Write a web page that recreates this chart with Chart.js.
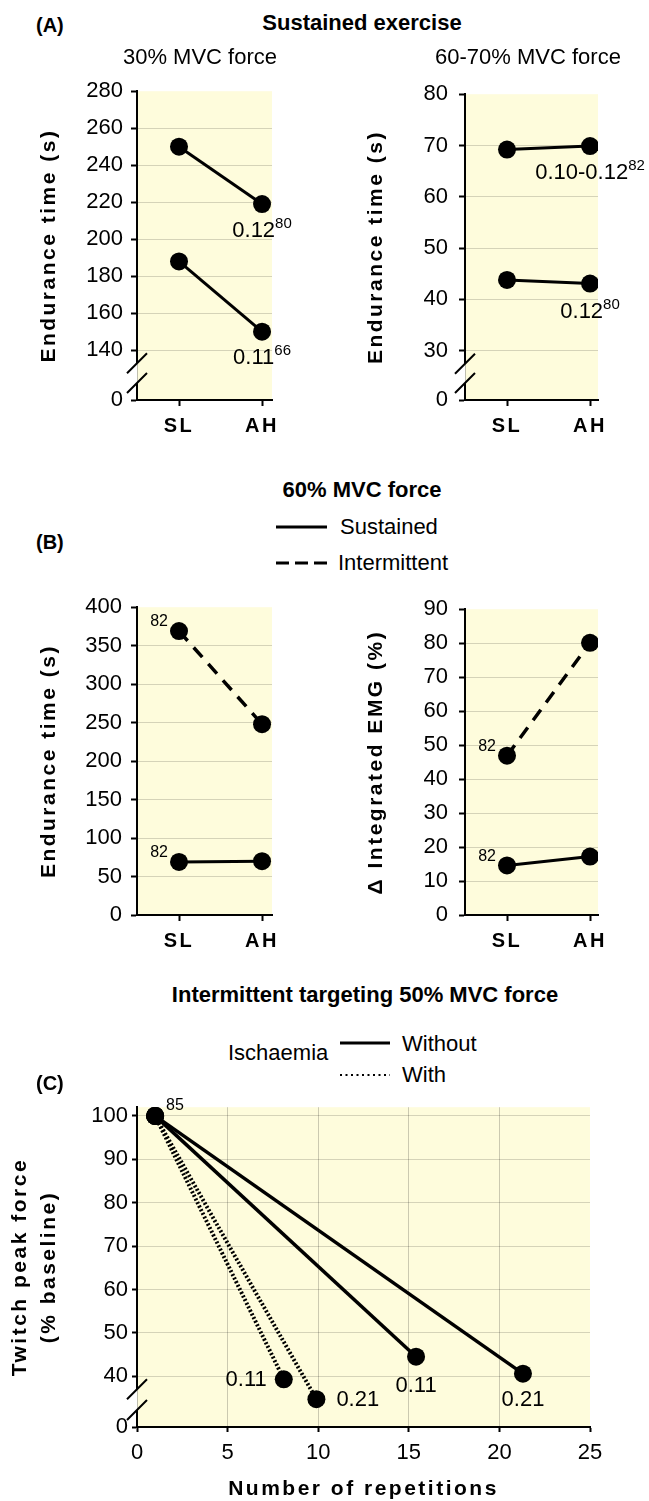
<!DOCTYPE html>
<html>
<head>
<meta charset="utf-8">
<title>Endurance time and twitch force, SL vs AH</title>
<script src="https://cdn.jsdelivr.net/npm/chart.js@4.4.1/dist/chart.umd.min.js"></script>
<style>
    body { margin: 0; background: #fff; }
    #page { position: relative; width: 649px; height: 1501px; font-family: 'Liberation Sans', Arial, sans-serif; color: #000; }
    #page canvas { position: absolute; }
    .txt { position: absolute; white-space: nowrap; height: 30px; line-height: 30px; font-size: 22px; }
    .bold { font-weight: bold; }
    .mid { transform: translateX(-50%); }
    .tag { font-size: 20px; font-weight: bold; }
    svg.key { position: absolute; overflow: visible; }
</style>
</head>
<body>
<div id="page">
    <canvas id="chartA1" width="310" height="370" style="left:0px; top:70px;"></canvas>
    <canvas id="chartA2" width="329" height="370" style="left:320px; top:70px;"></canvas>
    <canvas id="chartB1" width="310" height="370" style="left:0px; top:585px;"></canvas>
    <canvas id="chartB2" width="329" height="370" style="left:320px; top:585px;"></canvas>
    <canvas id="chartC" width="649" height="411" style="left:0px; top:1090px;"></canvas>

    <div class="txt tag" style="left:36px; top:10px;">(A)</div>
    <div class="txt bold mid" style="left:362px; top:8px;">Sustained exercise</div>
    <div class="txt mid" style="left:200px; top:42px;">30% MVC force</div>
    <div class="txt mid" style="left:528px; top:42px;">60-70% MVC force</div>

    <div class="txt tag" style="left:36px; top:527px;">(B)</div>
    <div class="txt bold mid" style="left:362px; top:475px;">60% MVC force</div>
    <svg class="key" style="left:276px; top:517px;" width="52" height="56">
        <line x1="0" y1="10" x2="51" y2="10" stroke="#000" stroke-width="3"/>
        <line x1="0" y1="46" x2="51" y2="46" stroke="#000" stroke-width="3" stroke-dasharray="13 6"/>
    </svg>
    <div class="txt" style="left:340px; top:512px;">Sustained</div>
    <div class="txt" style="left:338px; top:548px;">Intermittent</div>

    <div class="txt tag" style="left:36px; top:1068px;">(C)</div>
    <div class="txt bold mid" style="left:365px; top:980px;">Intermittent targeting 50% MVC force</div>
    <div class="txt" style="left:228px; top:1038px;">Ischaemia</div>
    <svg class="key" style="left:340px; top:1033px;" width="50" height="52">
        <line x1="0" y1="10" x2="50" y2="10" stroke="#000" stroke-width="3"/>
        <line x1="0" y1="42" x2="50" y2="42" stroke="#000" stroke-width="2" stroke-dasharray="2 3.5"/>
    </svg>
    <div class="txt" style="left:402px; top:1029px;">Without</div>
    <div class="txt" style="left:402px; top:1060px;">With</div>
</div>

<script>
    // ---- data ----
    const categories = ['SL', 'AH'];

    // (A) sustained exercise, 30% MVC force
    const a30Ticks = [140, 160, 180, 200, 220, 240, 260, 280];
    const a30Upper = [250, 219];
    const a30Lower = [188, 150];
    const a30UpperNote = ['0.12', '80'];
    const a30LowerNote = ['0.11', '66'];

    // (A) sustained exercise, 60-70% MVC force
    const a6070Ticks = [30, 40, 50, 60, 70, 80];
    const a6070Upper = [69.2, 69.9];
    const a6070Lower = [43.8, 43.1];
    const a6070UpperNote = ['0.10-0.12', '82'];
    const a6070LowerNote = ['0.12', '80'];

    // (B) 60% MVC force
    const bTimeTicks = [0, 50, 100, 150, 200, 250, 300, 350, 400];
    const bTimeSustained = [69, 70];
    const bTimeIntermittent = [369, 248];
    const bEmgTicks = [0, 10, 20, 30, 40, 50, 60, 70, 80, 90];
    const bEmgSustained = [14.6, 17.2];
    const bEmgIntermittent = [46.9, 80.1];
    const bRef = '82';

    // (C) intermittent targeting 50% MVC force
    const cXTicks = [0, 5, 10, 15, 20, 25];
    const cYTicks = [40, 50, 60, 70, 80, 90, 100];
    const cRepsWithoutA = [1, 15.4];
    const cForceWithoutA = [100, 44.5];
    const cRepsWithoutB = [1, 21.3];
    const cForceWithoutB = [100, 40.6];
    const cRepsWithA = [1, 8.1];
    const cForceWithA = [100, 39.3];
    const cRepsWithB = [1, 9.9];
    const cForceWithB = [100, 34.7];
    const cRef = '85';
    const cNoteWithoutA = '0.11';
    const cNoteWithoutB = '0.21';
    const cNoteWithA = '0.11';
    const cNoteWithB = '0.21';

    // ---- styling helpers ----
    const FONT = "'Liberation Sans', Arial, sans-serif";
    const PLOT_BG = '#fefcdc';
    const GRID = 'rgba(0,0,0,0.16)';
    const CLEAR = 'rgba(0,0,0,0)';

    const panelStyle = {
        id: 'panelStyle',
        beforeDraw(chart) {
            const { ctx, chartArea: a } = chart;
            ctx.save();
            ctx.fillStyle = PLOT_BG;
            ctx.fillRect(a.left, a.top, a.right - a.left, a.bottom - a.top);
            ctx.restore();
            // the bold axis titles are letter-spaced in the original
            ctx.letterSpacing = '2.5px';
        },
        beforeDatasetsDraw(chart) {
            chart.ctx.letterSpacing = '0px';
        },
        afterDatasetsDraw(chart) {
            const ctx = chart.ctx;
            chart.data.datasets.forEach((ds, di) => {
                (ds.notes || []).forEach(n => {
                    const pt = chart.getDatasetMeta(di).data[n.i];
                    const x = pt.x + (n.dx || 0);
                    const y = pt.y + (n.dy || 0);
                    const mainFont = (n.size || 22) + 'px ' + FONT;
                    const supFont = '15px ' + FONT;
                    ctx.save();
                    ctx.letterSpacing = '0px';
                    ctx.fillStyle = '#000';
                    ctx.textBaseline = 'middle';
                    ctx.textAlign = 'left';
                    ctx.font = mainFont;
                    const w1 = ctx.measureText(n.text).width;
                    ctx.font = supFont;
                    const w2 = n.sup ? ctx.measureText(n.sup).width : 0;
                    let x0 = x - (w1 + w2) / 2;
                    if (n.align === 'right') x0 = x - w1 - w2;
                    if (n.align === 'left') x0 = x;
                    ctx.font = mainFont;
                    ctx.fillText(n.text, x0, y);
                    if (n.sup) {
                        ctx.font = supFont;
                        ctx.fillText(n.sup, x0 + w1, y - 7);
                    }
                    ctx.restore();
                });
            });
        },
        afterDraw(chart, args, opts) {
            if (opts.breakAt == null) return;
            const ctx = chart.ctx;
            const a = chart.chartArea;
            const x0 = a.left;
            const y1 = chart.scales.y.getPixelForValue(opts.breakAt) + 13;
            const y2 = a.bottom - 17;
            const d = 10;
            ctx.save();
            ctx.fillStyle = '#fff';
            ctx.beginPath();
            ctx.moveTo(x0 - d, y1 + d); ctx.lineTo(x0 + 0.5, y1 - 0.5);
            ctx.lineTo(x0 + 0.5, y2 - 0.5); ctx.lineTo(x0 - d, y2 + d);
            ctx.fill();
            ctx.fillStyle = PLOT_BG;
            ctx.beginPath();
            ctx.moveTo(x0 + 0.5, y1 - 0.5); ctx.lineTo(x0 + d, y1 - d);
            ctx.lineTo(x0 + d, y2 - d); ctx.lineTo(x0 + 0.5, y2 - 0.5);
            ctx.fill();
            ctx.strokeStyle = '#000';
            ctx.lineWidth = 2;
            ctx.beginPath();
            ctx.moveTo(x0 - d, y1 + d); ctx.lineTo(x0 + d, y1 - d);
            ctx.moveTo(x0 - d, y2 + d); ctx.lineTo(x0 + d, y2 - d);
            ctx.stroke();
            ctx.restore();
        }
    };

    function points(xs, ys) {
        return ys.map((v, i) => ({ x: xs[i], y: v }));
    }

    function catPoints(ys) {
        return ys.map((v, i) => ({ x: i + 1, y: v }));
    }

    function series(data, extra) {
        return Object.assign({
            data: data,
            borderColor: '#000',
            borderWidth: 3,
            pointRadius: 9,
            pointHoverRadius: 9,
            pointBackgroundColor: '#000',
            pointBorderWidth: 0,
            tension: 0
        }, extra || {});
    }

    function yAxis(o) {
        return {
            type: 'linear',
            min: o.min,
            max: o.max,
            afterBuildTicks: s => {
                s.ticks = (o.brk ? [{ value: o.min }] : []).concat(o.ticks.map(v => ({ value: v })));
            },
            afterFit: s => { s.width = o.width; },
            ticks: {
                autoSkip: false,
                padding: o.pad,
                z: 1,
                color: '#000',
                font: { family: FONT, size: 22 },
                callback: v => (o.brk && v === o.min) ? '0' : String(v)
            },
            grid: {
                color: c => (c.tick && (c.tick.value === o.min || c.tick.value === o.max)) ? CLEAR : GRID,
                lineWidth: 1,
                tickColor: '#000',
                tickLength: o.tl,
                tickWidth: 2
            },
            border: { color: '#000', width: 2 },
            title: {
                display: true,
                text: o.title,
                color: '#000',
                padding: 0,
                font: { family: FONT, size: 21, weight: 'bold', lineHeight: o.lh || 1.2 }
            }
        };
    }

    function catAxis(min, max) {
        return {
            type: 'linear',
            min: min,
            max: max,
            afterBuildTicks: s => { s.ticks = categories.map((c, i) => ({ value: i + 1 })); },
            afterFit: s => { s.height = 40; },
            ticks: {
                autoSkip: false,
                maxRotation: 0,
                padding: 8,
                color: '#000',
                font: { family: FONT, size: 20, weight: 'bold' },
                callback: v => categories[v - 1]
            },
            grid: { drawOnChartArea: false, tickColor: '#000', tickLength: 6, tickWidth: 2 },
            border: { color: '#000', width: 2 }
        };
    }

    function makeChart(id, datasets, scales, padding, breakAt) {
        return new Chart(document.getElementById(id), {
            type: 'line',
            data: { datasets: datasets },
            options: {
                responsive: false,
                animation: false,
                devicePixelRatio: 1,
                layout: { padding: padding },
                scales: scales,
                plugins: {
                    legend: { display: false },
                    tooltip: { enabled: false },
                    panelStyle: { breakAt: breakAt }
                }
            },
            plugins: [panelStyle]
        });
    }

    // ---- (A) ----
    makeChart('chartA1', [
        series(catPoints(a30Upper), { notes: [{ i: 1, text: a30UpperNote[0], sup: a30UpperNote[1], dy: 27 }] }),
        series(catPoints(a30Lower), { notes: [{ i: 1, text: a30LowerNote[0], sup: a30LowerNote[1], dy: 26 }] })
    ], {
        x: catAxis(0.494, 2.12),
        y: yAxis({ min: 113.1, max: 280, ticks: a30Ticks, brk: true, width: 100, pad: 8, tl: 6, title: 'Endurance time (s)' })
    }, { left: 37, top: 20, right: 38, bottom: 0 }, 140);

    makeChart('chartA2', [
        series(catPoints(a6070Upper), { notes: [{ i: 1, text: a6070UpperNote[0], sup: a6070UpperNote[1], dy: 27 }] }),
        series(catPoints(a6070Lower), { notes: [{ i: 1, text: a6070LowerNote[0], sup: a6070LowerNote[1], dy: 28 }] })
    ], {
        x: catAxis(0.494, 2.096),
        y: yAxis({ min: 20.4, max: 80, ticks: a6070Ticks, brk: true, width: 101, pad: 11, tl: 6, title: 'Endurance time (s)' })
    }, { left: 44, top: 20, right: 51, bottom: 0 }, 30);

    // ---- (B) ----
    makeChart('chartB1', [
        series(catPoints(bTimeIntermittent), { borderDash: [13, 9], borderWidth: 3.5, notes: [{ i: 0, text: bRef, size: 16, align: 'right', dx: -11, dy: -9 }] }),
        series(catPoints(bTimeSustained), { notes: [{ i: 0, text: bRef, size: 16, align: 'right', dx: -11, dy: -9 }] })
    ], {
        x: catAxis(0.494, 2.12),
        y: yAxis({ min: 0, max: 400, ticks: bTimeTicks, width: 100, pad: 9, tl: 6, title: 'Endurance time (s)' })
    }, { left: 37, top: 20, right: 38, bottom: 0 });

    makeChart('chartB2', [
        series(catPoints(bEmgIntermittent), { borderDash: [13, 9], borderWidth: 3.5, notes: [{ i: 0, text: bRef, size: 16, align: 'right', dx: -11, dy: -9 }] }),
        series(catPoints(bEmgSustained), { notes: [{ i: 0, text: bRef, size: 16, align: 'right', dx: -11, dy: -9 }] })
    ], {
        x: catAxis(0.494, 2.096),
        y: yAxis({ min: 0, max: 90, ticks: bEmgTicks, width: 101, pad: 11, tl: 6, title: 'Δ Integrated EMG (%)' })
    }, { left: 44, top: 20, right: 51, bottom: 0 });

    // ---- (C) ----
    const dotted = { borderDash: [2, 2], borderWidth: 4 };
    makeChart('chartC', [
        series(points(cRepsWithA, cForceWithA), Object.assign({ notes: [{ i: 1, text: cNoteWithA, align: 'right', dx: -17, dy: 1 }] }, dotted)),
        series(points(cRepsWithB, cForceWithB), Object.assign({ notes: [{ i: 1, text: cNoteWithB, align: 'left', dx: 20, dy: 1 }] }, dotted)),
        series(points(cRepsWithoutA, cForceWithoutA), { borderWidth: 3.5, notes: [{ i: 1, text: cNoteWithoutA, dy: 29 }, { i: 0, text: cRef, size: 16, align: 'left', dx: 11, dy: -10 }] }),
        series(points(cRepsWithoutB, cForceWithoutB), { borderWidth: 3.5, notes: [{ i: 1, text: cNoteWithoutB, dy: 26 }] })
    ], {
        x: {
            type: 'linear',
            min: 0,
            max: 25,
            afterBuildTicks: s => { s.ticks = cXTicks.map(v => ({ value: v })); },
            afterFit: s => { s.height = 74; },
            ticks: { autoSkip: false, maxRotation: 0, padding: 8, z: 1, color: '#000', font: { family: FONT, size: 22 } },
            grid: {
                color: c => (c.tick && (c.tick.value === 0 || c.tick.value === 25)) ? CLEAR : 'rgba(0,0,0,0.2)',
                tickColor: '#000',
                tickLength: 5,
                tickWidth: 2
            },
            border: { color: '#000', width: 2 },
            title: {
                display: true,
                text: 'Number of repetitions',
                color: '#000',
                padding: { top: 0, bottom: -1 },
                font: { family: FONT, size: 21, weight: 'bold' }
            }
        },
        y: yAxis({ min: 28.3, max: 102, ticks: cYTicks, brk: true, width: 131.5, pad: 4, tl: 5, lh: 1.38, title: ['Twitch peak force', '(% baseline)'] })
    }, { left: 5.5, top: 17, right: 59, bottom: 0 }, 40);
</script>
</body>
</html>
